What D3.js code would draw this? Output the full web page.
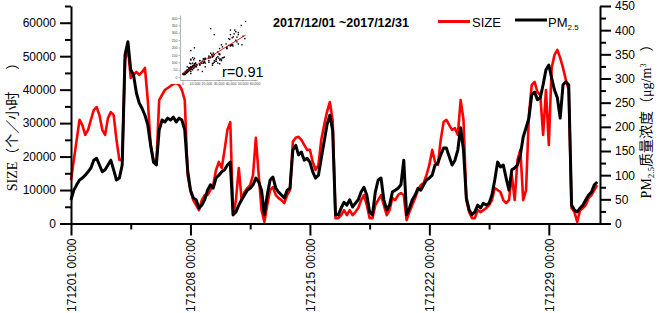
<!DOCTYPE html>
<html>
<head>
<meta charset="utf-8">
<script src="https://cdn.jsdelivr.net/npm/d3@7/dist/d3.min.js"></script>
<style>
  body { margin: 0; background: #fff; }
  svg { display: block; }
  .axis text { font-family: "Liberation Sans", Arial, sans-serif; font-size: 12px; fill: #000; }
  .axis path, .axis line { stroke: #000; stroke-width: 2; }
  .inset text { font-family: "Liberation Sans", Arial, sans-serif; font-size: 3.5px; fill: #444; }
  .inset path, .inset line { stroke: #666; stroke-width: 0.5; }
</style>
</head>
<body>
<div id="chart"></div>
<script>
// hourly readings sampled every 4 hours from 2017/12/01 00:00
var start = new Date(2017, 11, 1, 0, 0);
var stepHours = 4;

// SIZE (个/小时)
var sizeVals = [
  13000, 19000, 25000, 31000, 29400, 26500,
  28000, 31000, 33900, 34800, 32400, 28000,
  26500, 31500, 33300, 32400, 25000, 19000,
  19000, 48900, 52500, 43500, 44400, 45300,
  44400, 45300, 46500, 36900, 23500, 19000,
  17500, 36900, 38400, 39900, 40500, 41100,
  41700, 42000, 41400, 39900, 36900, 14500,
  10000, 7000, 5500, 4000, 7000, 8500,
  8500, 10000, 11500, 16000, 18400, 16600,
  22000, 28000, 30300, 2500, 7000, 16600,
  7000, 9400, 10600, 11500, 14500, 25600,
  14500, 4000, 500, 5500, 10000, 10900,
  8500, 7600, 7000, 6100, 8500, 10000,
  24400, 25600, 25900, 25000, 23500, 22000,
  22000, 18400, 16000, 17500, 25000, 29400,
  33300, 36300, 30900, 1600, 1600, 2500,
  4000, 2500, 4000, 2500, 3400, 4600,
  7000, 8500, 5500, 1600, 1600, 5500,
  7000, 8500, 5500, 2500, 4000, 7600,
  7000, 8500, 9100, 8500, 1000, 3400,
  5500, 7600, 10000, 11500, 12100, 14500,
  17500, 22000, 18400, 17500, 25000, 30300,
  31000, 29400, 28000, 28500, 26500, 36900,
  31000, 7000, 3400, 1600, 1600, 4000,
  3400, 4000, 4600, 5500, 7000, 10600,
  10000, 9400, 7000, 6100, 7000, 14500,
  7000, 19000, 22000, 7000, 10000, 32400,
  41400, 42300, 39300, 38400, 26500, 39900,
  23500, 46500, 50400, 51900, 49500, 46500,
  42900, 39900, 4600, 3400, 500, 4000,
  4600, 5500, 7600, 8500, 10000, 11500
];

// PM2.5 (μg/m3)
var pmVals = [
  49, 69, 80, 90, 94, 100,
  107, 115, 131, 135, 121, 107,
  111, 121, 131, 111, 90, 94,
  121, 349, 376, 318, 307, 270,
  249, 238, 224, 204, 162, 127,
  121, 193, 214, 210, 218, 214,
  220, 210, 218, 214, 193, 111,
  69, 53, 49, 32, 38, 49,
  69, 80, 73, 94, 100, 107,
  111, 121, 127, 18, 24, 38,
  49, 59, 69, 73, 80, 94,
  86, 69, 18, 59, 90, 96,
  73, 65, 59, 53, 69, 73,
  152, 162, 142, 148, 131, 135,
  127, 107, 94, 100, 135, 169,
  204, 224, 193, 18, 18, 32,
  44, 38, 49, 34, 42, 49,
  65, 75, 59, 24, 18, 65,
  90, 94, 49, 28, 38, 65,
  69, 73, 80, 131, 18, 32,
  49, 59, 73, 69, 80, 90,
  94, 100, 121, 125, 142, 156,
  156, 138, 121, 131, 152, 198,
  152, 53, 28, 18, 24, 38,
  32, 42, 38, 42, 59, 90,
  127, 117, 121, 94, 69, 111,
  115, 121, 142, 179, 198, 218,
  266, 272, 256, 260, 287, 318,
  328, 301, 276, 260, 218, 287,
  293, 287, 38, 28, 24, 32,
  38, 49, 59, 65, 80, 86
];

var leftTicks = [0, 10000, 20000, 30000, 40000, 50000, 60000];
var rightTicks = [0, 50, 100, 150, 200, 250, 300, 350, 400, 450];
var dateTicks = [new Date(2017, 11, 1), new Date(2017, 11, 8), new Date(2017, 11, 15),
                 new Date(2017, 11, 22), new Date(2017, 11, 29)];
var insetXTicks = [0, 10000, 20000, 30000, 40000, 50000, 60000];
var insetYTicks = [0, 50, 100, 150, 200, 250, 300, 350, 400];
var period = "2017/12/01 ~2017/12/31";
var corrLabel = "r=0.91";

var times = sizeVals.map(function(d, i) { return d3.timeHour.offset(start, i * stepHours); });

var width = 661, height = 313;
var svg = d3.select("#chart").append("svg")
    .attr("width", width)
    .attr("height", height);

var x = d3.scaleTime()
    .domain([new Date(2017, 11, 1), new Date(2018, 0, 1)])
    .range([71, 600]);
var yL = d3.scaleLinear().domain([0, 65000]).range([223.5, 6]);
var yR = d3.scaleLinear().domain([0, 450]).range([223.5, 6]);

// series
svg.append("path")
    .datum(sizeVals)
    .attr("fill", "none")
    .attr("stroke", "#ff0000")
    .attr("stroke-width", 2.6)
    .attr("stroke-linejoin", "round")
    .attr("d", d3.line().x(function(d, i) { return x(times[i]); }).y(function(d) { return yL(d); }));

svg.append("path")
    .datum(pmVals)
    .attr("fill", "none")
    .attr("stroke", "#000")
    .attr("stroke-width", 3)
    .attr("stroke-linejoin", "round")
    .attr("d", d3.line().x(function(d, i) { return x(times[i]); }).y(function(d) { return yR(d); }));

// inset scatter
var inset = svg.append("g").attr("class", "inset");
inset.append("rect")
    .attr("x", 163).attr("y", 8).attr("width", 104).attr("height", 76)
    .attr("fill", "#fff");

var ix = d3.scaleLinear().domain([-2000, 62000]).range([180, 257]);
var iy = d3.scaleLinear().domain([-20, 420]).range([80, 15]);

inset.append("g")
    .attr("transform", "translate(180,0)")
    .call(d3.axisLeft(iy).tickValues(insetYTicks).tickSize(1.5).tickSizeOuter(0).tickPadding(1));
inset.append("g")
    .attr("transform", "translate(0,80)")
    .call(d3.axisBottom(ix).tickValues(insetXTicks).tickSize(1.5).tickSizeOuter(0).tickPadding(1));

inset.selectAll(".pt")
    .data(sizeVals)
    .enter().append("rect")
    .attr("class", "pt")
    .attr("x", function(d) { return ix(d) - 0.7; })
    .attr("y", function(d, i) { return iy(pmVals[i]) - 0.7; })
    .attr("width", 1.4)
    .attr("height", 1.4)
    .attr("fill", "#000");

// least squares fit of PM2.5 on SIZE
var mx = d3.mean(sizeVals), my = d3.mean(pmVals);
var sxy = d3.sum(sizeVals, function(d, i) { return (d - mx) * (pmVals[i] - my); });
var sxx = d3.sum(sizeVals, function(d) { return (d - mx) * (d - mx); });
var slope = sxy / sxx, icpt = my - slope * mx;
var ext = d3.extent(sizeVals);
inset.append("line")
    .attr("x1", ix(ext[0])).attr("y1", iy(icpt + slope * ext[0]))
    .attr("x2", ix(ext[1])).attr("y2", iy(icpt + slope * ext[1]))
    .style("stroke", "#d00000")
    .style("stroke-width", 0.9);

svg.append("text")
    .attr("x", 222).attr("y", 77)
    .style("font-family", "Liberation Sans, Arial, sans-serif")
    .style("font-size", "14.5px")
    .text(corrLabel);

// axes
var gL = svg.append("g").attr("class", "axis").attr("transform", "translate(71,0)")
    .call(d3.axisLeft(yL).tickValues(leftTicks).tickSize(11).tickSizeOuter(0).tickPadding(4).tickFormat(d3.format("d")));
svg.append("g").attr("class", "axis").attr("transform", "translate(71,0)")
    .call(d3.axisLeft(yL).tickValues(d3.range(5000, 65001, 10000)).tickSize(6).tickFormat(""))
    .select(".domain").remove();

svg.append("g").attr("class", "axis").attr("transform", "translate(600,0)")
    .call(d3.axisRight(yR).tickValues(rightTicks).tickSize(11).tickSizeOuter(0).tickPadding(4));
svg.append("g").attr("class", "axis").attr("transform", "translate(600,0)")
    .call(d3.axisRight(yR).tickValues(d3.range(25, 450, 50)).tickSize(6).tickFormat(""))
    .select(".domain").remove();

var gX = svg.append("g").attr("class", "axis").attr("transform", "translate(0,223.5)")
    .call(d3.axisBottom(x).tickValues(dateTicks).tickSize(12).tickSizeOuter(0).tickFormat(d3.timeFormat("%y%m%d %H:%M")));
gX.selectAll("text")
    .attr("transform", "rotate(-90)")
    .attr("text-anchor", "end")
    .attr("x", -15)
    .attr("y", 0)
    .attr("dy", "0.35em");
svg.append("g").attr("class", "axis").attr("transform", "translate(0,223.5)")
    .call(d3.axisBottom(x).tickValues(dateTicks.slice(0, 4).map(function(d) { return d3.timeHour.offset(d, 84); })).tickSize(6).tickFormat(""))
    .select(".domain").remove();

// axis titles
var left = svg.append("text")
    .attr("transform", "translate(12,123.5) rotate(-90)")
    .attr("text-anchor", "middle")
    .attr("dy", "0.35em")
    .style("font-family", "Liberation Serif, Noto Sans CJK SC, serif")
    .style("font-size", "14px");
left.append("tspan").text("SIZE（个／小时");
left.append("tspan").attr("dx", 22).text("）");

var right = svg.append("text")
    .attr("transform", "translate(646,118) rotate(-90)")
    .attr("text-anchor", "middle")
    .attr("dy", "0.35em")
    .style("font-family", "Liberation Serif, Noto Sans CJK SC, serif")
    .style("font-size", "14px");
right.append("tspan").text("PM");
right.append("tspan").attr("dy", 3).style("font-size", "9px").text("2.5");
right.append("tspan").attr("dy", -3).text("质量浓度（μg/m");
right.append("tspan").attr("dy", -5).style("font-size", "8px").text("3");
right.append("tspan").attr("dy", 5).attr("dx", 12).text("）");

// title and legend
svg.append("text")
    .attr("x", 273).attr("y", 27)
    .style("font-family", "Liberation Sans, Arial, sans-serif")
    .style("font-size", "12.5px")
    .style("font-weight", "bold")
    .text(period);

svg.append("line").attr("x1", 438).attr("x2", 470).attr("y1", 21.5).attr("y2", 21.5)
    .style("stroke", "#ff0000").style("stroke-width", 3);
svg.append("text").attr("x", 472).attr("y", 27)
    .style("font-family", "Liberation Sans, Arial, sans-serif").style("font-size", "13px")
    .text("SIZE");
svg.append("line").attr("x1", 515).attr("x2", 547).attr("y1", 20).attr("y2", 20)
    .style("stroke", "#000").style("stroke-width", 3);
var pmLeg = svg.append("text").attr("x", 548).attr("y", 27)
    .style("font-family", "Liberation Sans, Arial, sans-serif").style("font-size", "13px");
pmLeg.append("tspan").text("PM");
pmLeg.append("tspan").attr("dy", 3).style("font-size", "8px").text("2.5");
</script>
</body>
</html>
